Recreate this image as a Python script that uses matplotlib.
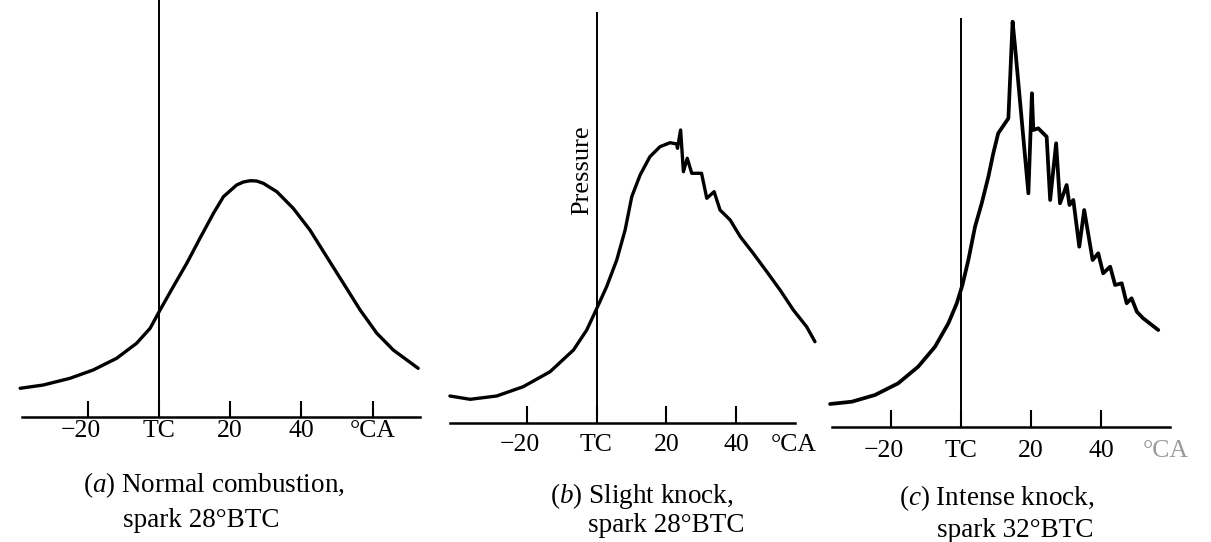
import matplotlib
matplotlib.use("Agg")
import matplotlib.pyplot as plt
from matplotlib import transforms

plt.rcParams['font.family'] = ['Liberation Serif', 'DejaVu Serif']
plt.rcParams['mathtext.fontset'] = 'custom'
plt.rcParams['mathtext.rm'] = 'Liberation Serif'
plt.rcParams['mathtext.it'] = 'Liberation Serif:italic'

# ---------------- data (crank angle in deg, relative pressure) ----------------
a_ca = [-39.0, -32.5, -25.0, -18.5, -11.9, -6.3, -2.5, 0.3, 4.0, 7.8, 11.5, 15.3,
        18.1, 21.8, 23.7, 25.6, 27.4, 29.3, 33.1, 37.7, 42.4, 47.1, 51.8, 56.5,
        61.2, 65.8, 72.8]
a_p = [28.4, 31.7, 38.4, 46.7, 58.4, 73.4, 88.4, 106.7, 130, 153.4, 178.4, 203.4,
       220, 231.7, 234.7, 236, 235.7, 233.4, 225, 208.4, 186.7, 160, 133.4, 106.7,
       83.4, 66.7, 48.4]

b_ca = [-42.0, -36.2, -28.6, -21.0, -13.3, -6.6, -2.8, 0.1, 2.9, 5.8, 8.2, 10.1,
        12.5, 15.3, 18.2, 21.1, 23.0, 23.2, 24.1, 24.9, 26.0, 27.3, 30.1, 31.6,
        33.7, 35.4, 38.3, 41.2, 44.9, 48.8, 52.6, 56.4, 60.2, 62.6]
b_p = [26.7, 23.4, 26.7, 36, 51, 72.7, 92.7, 114.4, 136, 162.7, 192.7, 226,
       247.7, 266, 276, 280, 278.7, 274.4, 292.7, 251, 264.4, 249.4, 249.4, 224.4,
       231, 212.7, 202.7, 186, 169.4, 151, 132.7, 112.7, 96, 81]

c_ca = [-37.3, -31.1, -24.5, -17.9, -12.2, -7.4, -3.6, -1.2, 0.4, 2.1, 4.0, 5.9,
        7.8, 9.2, 10.6, 13.5, 14.7, 15.4, 19.2, 20.2, 20.6, 22.0, 24.4, 25.4,
        27.1, 28.2, 30.1, 30.9, 32.0, 33.7, 35.1, 37.5, 39.1, 40.5, 42.5, 43.9,
        45.8, 47.2, 48.6, 50.1, 51.9, 56.2]
c_p = [23.3, 25.6, 32.3, 44, 60.6, 80.6, 104, 124, 142.3, 167.3, 200.6, 224,
       250.6, 274, 294, 309, 405.6, 380.6, 234, 334, 297.3, 299, 290.6, 227.3,
       284, 224, 242.3, 222.3, 227.3, 180.6, 217.3, 167.3, 174, 154, 160.6, 142.3,
       144, 124, 129, 115.6, 109, 97.3]

tick_values_a = [-20, 0, 20, 40, 60]
tick_values_bc = [-20, 0, 20, 40]
label_values_a = [-20, 0, 20, 40, 60]
label_values_b = [-20, 0, 20, 40, 56.6]
label_values_c = [-20, 0, 20, 40, 58.4]
tick_labels = ["−20", "TC", "20", "40", "°CA"]

captions_a = ["($\\it{a}$) Normal combustion,", "spark 28°BTC"]
captions_b = ["($\\it{b}$) Slight knock,", "spark 28°BTC"]
captions_c = ["($\\it{c}$) Intense knock,", "spark 32°BTC"]
y_label = "Pressure"

# ---------------- layout (pixel geometry of each panel) ----------------
W, H = 1211, 542
fig = plt.figure(figsize=(W / 100, H / 100), dpi=100)
fig.patch.set_facecolor('white')

panels = [
    dict(ca=a_ca, p=a_p, ticks=tick_values_a, lab_x=label_values_a,
         caps=captions_a, left=0, right=430, base=416.7, x0=159, s=3.56,
         axis=(-38.6, 73.3), tc_top=416.7, tick_len=11.5, lab_y=-20.6,
         cap_x=(15.3, 11.8), cap_y=(-75, -110), ca_color='black', lw=2.4),
    dict(ca=b_ca, p=b_p, ticks=tick_values_bc, lab_x=label_values_b,
         caps=captions_b, left=430, right=830, base=422.7, x0=596.5, s=3.49,
         axis=(-42.1, 56.9), tc_top=410.7, tick_len=12.5, lab_y=-28,
         cap_x=(12.9, 19.9), cap_y=(-80, -109), ca_color='black', lw=2.4),
    dict(ca=c_ca, p=c_p, ticks=tick_values_bc, lab_x=label_values_c,
         caps=captions_c, left=820, right=1211, base=427.3, x0=961, s=3.51,
         axis=(-36.8, 59.5), tc_top=409.3, tick_len=12, lab_y=-29.4,
         cap_x=(10.1, 15.5), cap_y=(-77.7, -109.4), ca_color='#9a9a9a', lw=2.7),
]

for i, P in enumerate(panels):
    rect = [P['left'] / W, 1 - P['base'] / H, (P['right'] - P['left']) / W, P['base'] / H]
    ax = fig.add_axes(rect)
    ax.set_facecolor('none')
    ax.set_xlim((P['left'] - P['x0']) / P['s'], (P['right'] - P['x0']) / P['s'])
    ax.set_ylim(0, P['base'])
    for sp in ('left', 'top', 'right'):
        ax.spines[sp].set_visible(False)
    ax.spines['bottom'].set_bounds(*P['axis'])
    ax.spines['bottom'].set_linewidth(1.8)
    ax.set_yticks([])
    ax.set_xticks(P['ticks'])
    ax.tick_params(axis='x', direction='in', length=P['tick_len'], width=1.5,
                   labelbottom=False, color='black')

    ax.vlines(0, 0, P['tc_top'], color='black', lw=1.4)
    ax.plot(P['ca'], P['p'], color='black', lw=P['lw'], solid_joinstyle='round',
            solid_capstyle='round', clip_on=False)

    for xv, lab in zip(P['lab_x'], tick_labels):
        tr = ax.transData
        if lab.startswith('−'):
            tr = transforms.offset_copy(ax.transData, fig=fig, x=-5.0, y=0, units='points')
        col = P['ca_color'] if lab == '°CA' else 'black'
        ax.text(xv, P['lab_y'], lab, transform=tr, ha='center', va='baseline',
                fontsize=18.5, color=col)

    for cx, cy, cap in zip(P['cap_x'], P['cap_y'], P['caps']):
        ax.text(cx, cy, cap, ha='center', va='baseline', fontsize=19.5, color='black')

    if i == 1:
        ax.text(-4.2, 252.7, y_label, rotation=90, ha='center', va='center',
                fontsize=19, color='black')

fig.savefig('out.png', dpi=100, facecolor='white')
